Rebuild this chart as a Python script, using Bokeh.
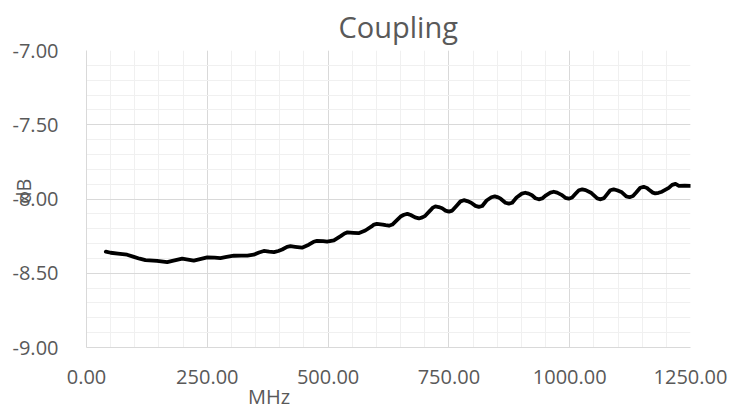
from bokeh.plotting import figure
from bokeh.models import Range1d, FixedTicker, NumeralTickFormatter
from bokeh.embed import file_html
from bokeh.resources import INLINE

# Data
freq_mhz = [40, 50, 65, 84, 98, 110, 122, 146, 167, 180, 198, 210, 222, 235, 250,
            265, 277, 290, 305, 320, 333, 346, 357, 367, 378, 388, 397, 405, 415,
            422, 432, 446, 460, 470, 477, 490, 498, 512, 526, 534, 540, 552, 563,
            577, 590, 595, 601, 613, 619, 626, 633, 643, 650, 657, 664, 671, 680,
            688, 695, 701, 712, 716, 722, 729, 736, 743, 750, 757, 766, 774, 781,
            788, 796, 805, 812, 819, 828, 838, 845, 852, 857, 867, 874, 881, 890,
            901, 908, 915, 922, 929, 936, 943, 951, 960, 967, 974, 983, 991, 998,
            1005, 1012, 1019, 1026, 1033, 1045, 1057, 1064, 1071, 1078, 1084, 1091,
            1098, 1108, 1117, 1124, 1131, 1138, 1146, 1153, 1160, 1165, 1172, 1177,
            1184, 1191, 1205, 1212, 1219, 1226, 1238, 1250]
coupling_db = [-8.355, -8.362, -8.368, -8.375, -8.390, -8.402, -8.412, -8.416, -8.425,
               -8.415, -8.402, -8.408, -8.415, -8.405, -8.393, -8.395, -8.398, -8.390,
               -8.382, -8.381, -8.381, -8.375, -8.360, -8.350, -8.355, -8.358, -8.350,
               -8.340, -8.322, -8.318, -8.322, -8.328, -8.308, -8.288, -8.282, -8.284,
               -8.287, -8.278, -8.250, -8.232, -8.225, -8.228, -8.230, -8.212, -8.185,
               -8.172, -8.167, -8.172, -8.176, -8.180, -8.172, -8.140, -8.118, -8.106,
               -8.100, -8.108, -8.124, -8.131, -8.124, -8.113, -8.075, -8.060, -8.050,
               -8.054, -8.062, -8.078, -8.085, -8.078, -8.045, -8.016, -8.008, -8.014,
               -8.025, -8.046, -8.053, -8.047, -8.010, -7.988, -7.982, -7.989, -7.998,
               -8.025, -8.031, -8.025, -7.990, -7.964, -7.958, -7.964, -7.975, -7.995,
               -8.002, -7.996, -7.975, -7.957, -7.951, -7.957, -7.972, -7.992, -7.998,
               -7.990, -7.965, -7.941, -7.935, -7.940, -7.960, -7.996, -8.002, -7.994,
               -7.965, -7.941, -7.935, -7.941, -7.955, -7.982, -7.988, -7.980, -7.955,
               -7.924, -7.918, -7.926, -7.940, -7.957, -7.962, -7.958, -7.951, -7.925,
               -7.905, -7.898, -7.911, -7.910, -7.912]

x_major_ticks = [0, 250, 500, 750, 1000, 1250]
x_minor_ticks = list(range(0, 1251, 50))
y_major_ticks = [-9.0, -8.5, -8.0, -7.5, -7.0]
y_minor_ticks = [round(-9.0 + 0.1 * i, 1) for i in range(21)]

title_text = "Coupling"
x_title = "MHz"
y_title = "dB"

FONT = "Open Sans"
GREY = "#595959"

p = figure(width=731, height=412, output_backend="svg", toolbar_location=None,
           x_range=Range1d(0, 1250), y_range=Range1d(-9, -7),
           min_border_left=86, min_border_right=41, min_border_top=48, min_border_bottom=64)
p.outline_line_color = None
p.background_fill_color = "white"
p.border_fill_color = "white"

p.title.text = title_text
p.title.align = "left"
p.title.offset = 252
p.title.text_font = FONT
p.title.text_font_size = "29px"
p.title.text_font_style = "normal"
p.title.text_color = GREY
p.title.standoff = 9

p.xaxis.ticker = FixedTicker(ticks=x_major_ticks, minor_ticks=x_minor_ticks)
p.yaxis.ticker = FixedTicker(ticks=y_major_ticks, minor_ticks=y_minor_ticks)
p.xaxis.formatter = NumeralTickFormatter(format="0.00")
p.yaxis.formatter = NumeralTickFormatter(format="0.00")

for ax in (p.xaxis, p.yaxis):
    ax.major_tick_line_color = None
    ax.minor_tick_line_color = None
    ax.major_tick_out = 0
    ax.minor_tick_out = 0
    ax.major_tick_in = 0
    ax.minor_tick_in = 0
    ax.axis_line_color = "#d9d9d9"
    ax.axis_line_width = 1
    ax.major_label_text_font = FONT
    ax.major_label_text_font_size = "20px"
    ax.major_label_text_color = GREY
    ax.axis_label_text_font = FONT
    ax.axis_label_text_font_size = "20px"
    ax.axis_label_text_font_style = "normal"
    ax.axis_label_text_color = GREY

p.xaxis.major_label_standoff = 22
p.yaxis.major_label_standoff = 28
# the axis titles sit off-centre in the reference: pad them with no-break spaces
p.xaxis.axis_label = x_title + "\u00a0" * 46
p.xaxis.axis_label_standoff = -4
p.yaxis.axis_label = "\u00a0" * 3 + y_title
p.yaxis.axis_label_standoff = -27

p.xgrid.grid_line_color = "#d9d9d9"
p.ygrid.grid_line_color = "#d9d9d9"
p.xgrid.minor_grid_line_color = "#f0f0f0"
p.ygrid.minor_grid_line_color = "#f0f0f0"
p.xgrid.level = "underlay"
p.ygrid.level = "underlay"

p.line(freq_mhz, coupling_db, line_color="black", line_width=3.8,
       line_join="round", line_cap="round")

open("out.html", "w").write(file_html(p, INLINE))
